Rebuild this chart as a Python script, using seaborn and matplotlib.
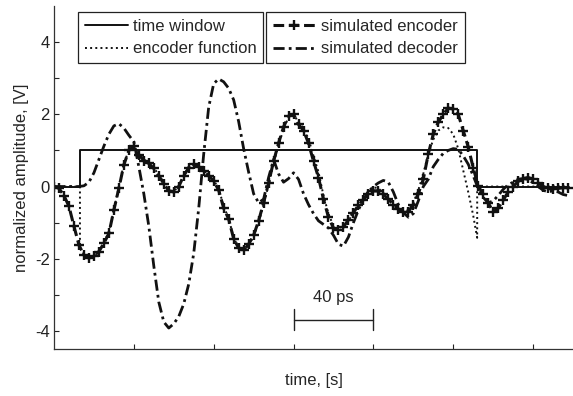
import numpy as np
import matplotlib
matplotlib.use("Agg")
import matplotlib.pyplot as plt
import seaborn as sns

# time axis in ps (sampling grid of the simulated curves)
t = np.arange(0, 258, 2.5)

sim_encoder = [0.0, -0.05, -0.25, -0.55, -1.1, -1.62, -1.9, -1.98, -1.92, -1.8,
               -1.57, -1.3, -0.65, -0.05, 0.6, 1.0, 1.12, 0.88, 0.72, 0.64,
               0.5, 0.3, 0.08, -0.12, -0.15, 0.0, 0.3, 0.52, 0.62, 0.55,
               0.42, 0.3, 0.15, -0.1, -0.6, -0.9, -1.45, -1.7, -1.77, -1.6,
               -1.35, -0.95, -0.45, 0.1, 0.7, 1.2, 1.65, 1.95, 2.0, 1.72,
               1.55, 1.2, 0.7, 0.25, -0.35, -0.85, -1.15, -1.2, -1.12, -0.92,
               -0.72, -0.52, -0.36, -0.22, -0.12, -0.12, -0.22, -0.35, -0.5, -0.62,
               -0.7, -0.7, -0.5, -0.2, 0.2, 0.9, 1.45, 1.78, 2.0, 2.17,
               2.15, 2.0, 1.55, 1.1, 0.52, 0.02, -0.22, -0.45, -0.7, -0.6,
               -0.38, -0.15, 0.0, 0.14, 0.22, 0.25, 0.2, 0.1, 0.0, -0.05,
               -0.06, -0.05, -0.03, -0.03]

sim_decoder = [0.0, 0.0, 0.0, 0.0, 0.0, 0.0, 0.02, 0.12, 0.38, 0.75,
               1.12, 1.45, 1.68, 1.74, 1.62, 1.42, 1.24, 0.55, -0.2, -1.1,
               -2.2, -3.2, -3.75, -3.92, -3.8, -3.6, -3.25, -2.7, -1.85, -0.6,
               0.9, 2.2, 2.85, 2.98, 2.9, 2.72, 2.4, 1.8, 1.05, 0.4,
               -0.2, -0.45, -0.35, 0.25, 0.75, 0.35, 0.12, 0.22, 0.38, 0.2,
               -0.2, -0.5, -0.75, -0.95, -1.05, -1.15, -1.35, -1.6, -1.65, -1.4,
               -1.0, -0.65, -0.35, -0.15, 0.0, 0.1, 0.17, 0.12, -0.15, -0.5,
               -0.72, -0.85, -0.75, -0.4, 0.0, 0.2, 0.55, 0.75, 0.92, 1.0,
               1.05, 1.03, 0.85, 0.62, 0.3, -0.05, -0.3, -0.45, -0.4, -0.25,
               -0.08, 0.05, 0.12, 0.2, 0.22, 0.2, 0.1, 0.0, -0.1, -0.15,
               -0.12, -0.15, -0.22, -0.25]

# encoder function: zero outside the time window
enc_func_t = [0, 13, 13] + list(np.arange(15, 211, 2.5)) + [212, 212, 258]
enc_func = [0.0, 0.0, -1.7,
            -1.88, -1.97, -1.93, -1.8, -1.55, -1.25, -0.65, 0.0, 0.62, 1.02,
            1.1, 0.92, 0.75, 0.66, 0.52, 0.32, 0.1, -0.1, -0.14, 0.02,
            0.32, 0.55, 0.62, 0.57, 0.45, 0.32, 0.17, -0.05, -0.55, -0.88,
            -1.42, -1.7, -1.77, -1.62, -1.38, -1.0, -0.5, 0.05, 0.65, 1.15,
            1.6, 1.92, 2.0, 1.78, 1.62, 1.32, 0.85, 0.4, -0.25, -0.75,
            -1.1, -1.22, -1.15, -0.95, -0.72, -0.5, -0.3, -0.12, -0.02, -0.05,
            -0.18, -0.33, -0.5, -0.62, -0.68, -0.66, -0.45, -0.1, 0.35, 0.9,
            1.3, 1.55, 1.64, 1.62, 1.45, 1.05, 0.45, -0.15, -0.8,
            -1.42, 0.0, 0.0]

window_t = [0, 13, 13, 212, 212, 258]
window_v = [0, 0, 1, 1, 0, 0]

x_ticks = [40, 80, 120, 160, 200, 240]
scale_bar = (120, 160)

sns.set_style("ticks")
plt.rcParams['font.family'] = ['Liberation Sans', 'DejaVu Sans']
plt.rcParams['axes.unicode_minus'] = False

ink = '#111111'
fig = plt.figure(figsize=(5.73, 3.96), dpi=100)
ax = fig.add_axes([54 / 573, 1 - 349 / 396, 1 - 54 / 573, 343 / 396])

sns.lineplot(x=window_t, y=window_v, ax=ax, color=ink, lw=1.4,
             estimator=None, sort=False, label='time window')
sns.lineplot(x=enc_func_t, y=enc_func, ax=ax, color=ink, lw=1.4,
             linestyle=':', estimator=None, sort=False, label='encoder function')
sns.lineplot(x=t, y=sim_encoder, ax=ax, color=ink, lw=2.2,
             linestyle=(0, (3.5, 1.5)), marker='+', markersize=7.5, mew=1.7,
             mec=ink, estimator=None, sort=False, label='simulated encoder')
sns.lineplot(x=t, y=sim_decoder, ax=ax, color=ink, lw=2.0,
             linestyle=(0, (4, 1.5, 1, 1.5)), estimator=None, sort=False,
             label='simulated decoder')

# 40 ps scale bar
ax.plot(scale_bar, [-3.7, -3.7], color='#222222', lw=1)
for xb in scale_bar:
    ax.plot([xb, xb], [-3.4, -3.98], color='#222222', lw=1)
ax.text(sum(scale_bar) / 2, -3.08, '40 ps', ha='center', va='center', fontsize=12)

ax.set_xlim(0, 260)
ax.set_ylim(-4.5, 5)
ax.set_xticks(x_ticks)
ax.set_xticklabels([])
ax.set_yticks([-4, -2, 0, 2, 4])
ax.set_yticks([-3, -1, 1, 3], minor=True)
ax.tick_params(direction='in', length=3.5, width=0.8, labelsize=12, pad=3,
               colors='#222222')
ax.tick_params(which='minor', direction='in', length=3.5, width=0.8)
for s in ['top', 'right']:
    ax.spines[s].set_visible(False)
for s in ['left', 'bottom']:
    ax.spines[s].set_color('#333333')
    ax.spines[s].set_linewidth(0.9)

ax.set_xlabel('time, [s]', fontsize=12, labelpad=14)
ax.set_ylabel('normalized amplitude, [V]', fontsize=12, labelpad=4)

handles, labels = ax.get_legend_handles_labels()
leg_style = dict(loc='upper left', fontsize=12, frameon=True, fancybox=False,
                 framealpha=1, edgecolor='#222222', borderaxespad=0,
                 handlelength=2.6, handletextpad=0.3, labelspacing=0.45,
                 borderpad=0.4)
leg1 = ax.legend(handles[:2], labels[:2], bbox_to_anchor=(0.046, 0.982), **leg_style)
leg1.get_frame().set_linewidth(0.9)
ax.add_artist(leg1)
leg2 = ax.legend(handles[2:], labels[2:], bbox_to_anchor=(0.4085, 0.982), **leg_style)
leg2.get_frame().set_linewidth(0.9)

fig.savefig('out.png', dpi=100)
plt.close(fig)
